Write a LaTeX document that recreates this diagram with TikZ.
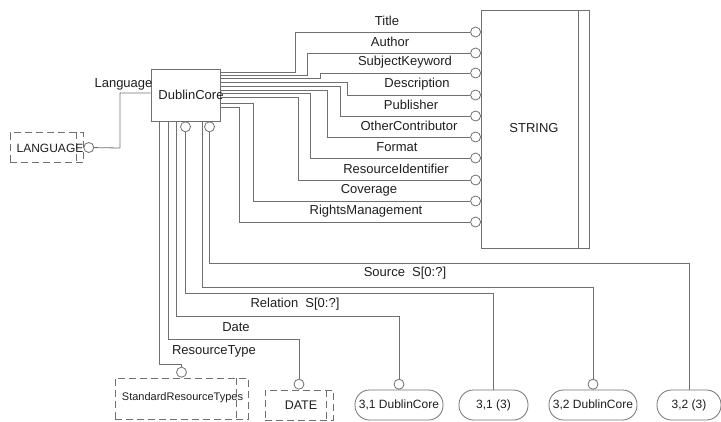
\documentclass[tikz,border=0pt]{standalone}
\usepackage{fontspec}
\setmainfont{Liberation Sans}
\usetikzlibrary{positioning,calc}
\definecolor{ink}{HTML}{1E1E1E}
\definecolor{wire}{HTML}{707070}

\begin{document}
\begin{tikzpicture}[x=1pt,y=-1pt,
  line/.style={draw=wire,line width=0.8pt},
  entity/.style={line,rectangle,inner sep=0pt},
  deftype/.style={draw=wire,line width=0.8pt,dash pattern=on 7pt off 4pt,rectangle,inner sep=0pt},
  attcirc/.style={line,circle,fill=white,minimum size=10pt,inner sep=0pt},
  lbl/.style={text=ink,inner sep=0pt,font=\fontsize{13}{15}\selectfont},
  pageref/.style={line,rounded corners=14.5pt,minimum height=30pt,inner sep=2pt,text=ink,font=\fontsize{12}{14}\selectfont}
]
\useasboundingbox (0,0) rectangle (721,421);

% entities
\node[entity,minimum width=69pt,minimum height=52pt] (dc) at (185.5,95) {};
\node[lbl,xshift=5.5pt] (dctext) at (dc) {DublinCore};
\node[entity,minimum width=108pt,minimum height=238pt] (str) at (535,129) {};
\draw[line] ([xshift=-11pt]str.north east) -- ([xshift=-11pt]str.south east);
\node[lbl] (strtext) at (534,128) {STRING};

% defined types
\node[deftype,minimum width=73pt,minimum height=30pt] (lang) at (46.5,147.5) {};
\draw[deftype] ([xshift=-7pt]lang.north east) -- ([xshift=-7pt]lang.south east);
\node[lbl,font=\fontsize{12}{14}\selectfont] (langtext) at (50,148) {LANGUAGE};
\node[deftype,minimum width=133pt,minimum height=41pt] (srt) at (181.5,398.5) {};
\draw[deftype] ([xshift=-12pt]srt.north east) -- ([xshift=-12pt]srt.south east);
\node[lbl,font=\fontsize{11}{13}\selectfont] (srttext) at (182.5,398) {StandardResourceTypes};
\node[deftype,minimum width=68pt,minimum height=30pt] (date) at (299,405) {};
\draw[deftype] ([xshift=-7pt]date.north east) -- ([xshift=-7pt]date.south east);
\node[lbl,font=\fontsize{12.5}{14}\selectfont] (datetext) at (301,405) {DATE};

% page references
\node[pageref,minimum width=88pt] (pr1) at (399,405) {3,1 DublinCore};
\node[pageref,minimum width=69pt] (pr2) at (493.5,405) {3,1 (3)};
\node[pageref,minimum width=88pt] (pr3) at (593,405) {3,2 DublinCore};
\node[pageref,minimum width=64pt] (pr4) at (689,405) {3,2 (3)};

% relationship ends
\node[attcirc,right=0pt of lang] (langc) {};
\node[attcirc,below=0pt of dc] (dcb1) {};
\node[attcirc,anchor=north] (dcb2) at ([xshift=24pt]dc.south) {};
\node[attcirc,above=0pt of srt] (srtc) {};
\node[attcirc,above=0pt of date] (datec) {};
\node[attcirc,above=0pt of pr1] (pr1c) {};
\node[attcirc,above=0pt of pr3] (pr3c) {};

% attributes to STRING
\foreach \att/\ey/\bx/\ty/\lx in {
  Title/4/295/32/387,
  Author/7/307/53/390,
  SubjectKeyword/10/320/73/405,
  Description/14/347/95/417,
  Publisher/18/340/116/411,
  OtherContributor/22/327/137/409,
  Format/25/310/158/397,
  ResourceIdentifier/29/298/180/396,
  Coverage/35/253/201/369,
  RightsManagement/39/239/222/366}{
  \node[attcirc,anchor=east] (c\att) at (481,\ty) {};
  \draw[line] ([yshift=-\ey pt]dc.north east) -| (\bx,\ty) -- (c\att);
  \node[lbl] (l\att) at (\lx,\ty-11) {\att};
}

% Language
\draw[line] (langc) -- (120,148) |- ([yshift=2pt]dc.west);
\node[lbl] (langlbl) at (123.5,84) {Language};

% relations below
\draw[line] ([xshift=-26.5pt]dc.south) |- (srtc |- 0,364) -- (srtc);
\draw[line] ([xshift=-17.5pt]dc.south) |- (datec |- 0,339) -- (datec);
\draw[line] ([xshift=-9.5pt]dc.south) |- (pr1c |- 0,316) -- (pr1c);
\draw[line] (dcb1.south) |- (pr2 |- 0,293) -- (pr2);
\draw[line] ([xshift=16.5pt]dc.south) |- (pr3c |- 0,287) -- (pr3c);
\draw[line] (dcb2.south) |- (pr4 |- 0,263) -- (pr4);

\node[lbl] (rtlbl) at (214,351) {ResourceType};
\node[lbl] (datelbl) at (236,327) {Date};
\node[lbl] (rellbl) at (295,304) {Relation~~S[0:?]};
\node[lbl] (srclbl) at (405,273) {Source~~S[0:?]};
\end{tikzpicture}
\end{document}
